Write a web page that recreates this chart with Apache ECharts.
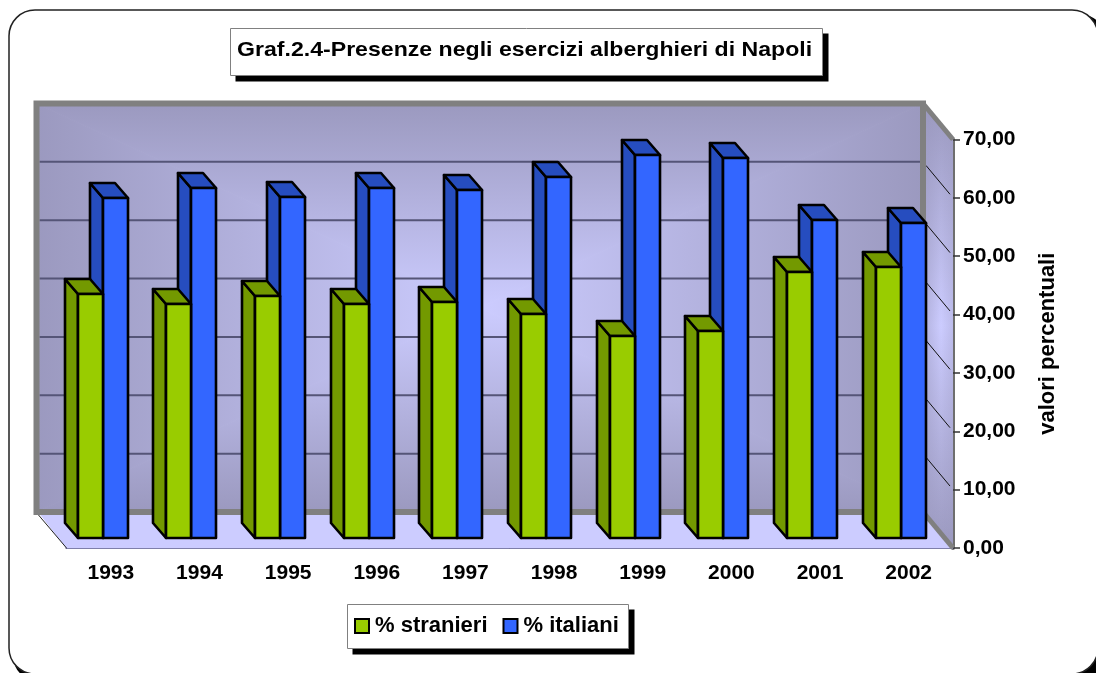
<!DOCTYPE html>
<html><head><meta charset="utf-8">
<style>html,body{margin:0;padding:0;background:#fff}#c{width:1096px;height:673px}</style>
<script src="https://cdn.jsdelivr.net/npm/echarts@6/dist/echarts.min.js"></script>
</head><body><div id="c"></div>
<script>
const years = ['1993','1994','1995','1996','1997','1998','1999','2000','2001','2002'];
const stranieri = [41.8,40.1,41.5,40.1,40.5,38.4,34.7,35.4,45.6,46.4];
const italiani  = [58.2,60.0,58.5,60.0,59.7,61.8,65.6,65.1,54.5,54.0];
const gridValues = [10,20,30,40,50,60];
const chartTitle = 'Graf.2.4-Presenze negli esercizi alberghieri di Napoli';
const FONT = '"Liberation Sans", Arial, sans-serif';

const chart = echarts.init(document.getElementById('c'), null, {renderer:'canvas'});
function vgrad(a,b){return {type:'linear',x:0,y:0,x2:0,y2:1,colorStops:[{offset:0,color:a},{offset:1,color:b}]};}
function hgrad(a,b){return {type:'linear',x:0,y:0,x2:1,y2:0,colorStops:[{offset:0,color:a},{offset:1,color:b}]};}
const EDGE='#9B99BF', MID='#CCCCFF', BACK_X=-30, BACK_Y=-36;

function poly(a,fill){return {type:'polygon',shape:{points:a},style:{fill:fill,stroke:fill,lineWidth:1},silent:true};}
function pathGradientFaces(tl,tr,br,bl,c,edge){
  return [
    poly([tl,tr,c],vgrad(edge,MID)),
    poly([bl,br,c],vgrad(MID,edge)),
    poly([tl,bl,c],hgrad(edge,MID)),
    poly([tr,br,c],hgrad(MID,edge))
  ];
}
function renderWalls(params,api){
  const s=params.coordSys, x0=s.x, x1=s.x+s.width, yTop=s.y, yBot=s.y+s.height;
  const bx0=x0+BACK_X, bx1=x1+BACK_X, by0=yTop+BACK_Y, by1=yBot+BACK_Y;
  const ch=[];
  ch.push(...pathGradientFaces([bx0,by0],[bx1,by0],[bx1,by1],[bx0,by1],[(bx0+bx1)/2,(by0+by1)/2],EDGE));
  const side=[[bx1,by0],[x1,yTop],[x1,yBot],[bx1,by1]];
  ch.push({type:'polygon',shape:{points:side},silent:true,style:{fill:{type:'linear',x:0,y:0,x2:0,y2:1,colorStops:[
    {offset:0,color:EDGE},{offset:0.5,color:MID},{offset:1,color:EDGE}]}}});
  ch.push({type:'polygon',shape:{points:side},silent:true,style:{fill:{type:'linear',x:0,y:0,x2:1,y2:0,colorStops:[
    {offset:0,color:'rgba(155,153,191,0.55)'},{offset:0.6,color:'rgba(155,153,191,0)'},{offset:1,color:'rgba(155,153,191,0.3)'}]}}});
  ch.push(poly([[bx0+2,by1],[bx1,by1],[x1,yBot],[x0,yBot]],'#CCCCFF'));
  ch.push({type:'line',shape:{x1:bx0+2,y1:by1+3,x2:x0,y2:yBot},style:{stroke:'#222',lineWidth:1},silent:true});
  gridValues.forEach(v=>{
    const y=api.coord([0,v])[1];
    ch.push({type:'line',shape:{x1:bx0+3,y1:y+BACK_Y,x2:bx1-3,y2:y+BACK_Y},style:{stroke:'#555577',lineWidth:2},silent:true});
    ch.push({type:'line',shape:{x1:bx1+3,y1:y+BACK_Y+3.6,x2:x1-3,y2:y-3.6},style:{stroke:'#111',lineWidth:1},silent:true});
  });
  const g={stroke:'#808080',lineWidth:6,fill:null,lineJoin:'miter'};
  ch.push({type:'polygon',shape:{points:[[bx0,by0],[bx1,by0],[bx1,by1],[bx0,by1]]},style:g,silent:true});
  ch.push({type:'line',shape:{x1:bx1,y1:by0,x2:x1,y2:yTop},style:{stroke:'#808080',lineWidth:5},silent:true});
  ch.push({type:'line',shape:{x1:bx1,y1:by1,x2:x1,y2:yBot},style:{stroke:'#808080',lineWidth:5},silent:true});
  return {type:'group',children:ch};
}
const DX=-13, DY=-15, BASE=-10, W=25, SHIFT=-8;
function barRenderer(side,front,shade){
  return function(params,api){
    const c=api.coord([api.value(0),api.value(1)]), o=api.coord([api.value(0),0]);
    const xa=Math.round(c[0]+SHIFT+(side<0?-W:0)), xb=xa+W;
    const yt=Math.round(c[1]+BASE), yb=Math.round(o[1]+BASE);
    const st={stroke:'#000',lineWidth:2.6,lineJoin:'round'};
    const face=(a,f)=>({type:'polygon',shape:{points:a},style:Object.assign({fill:f},st)});
    return {type:'group',children:[
      face([[xa,yb],[xa+DX,yb+DY],[xa+DX,yt+DY],[xa,yt]],shade),
      face([[xa,yt],[xa+DX,yt+DY],[xb+DX,yt+DY],[xb,yt]],shade),
      face([[xa,yt],[xb,yt],[xb,yb],[xa,yb]],front)
    ]};
  };
}
function box(x,y,w,h,z){
  return [
    {type:'rect',z:z,shape:{x:x+5,y:y+5,width:w+1,height:h+1},style:{fill:'#000'},silent:true},
    {type:'rect',z:z,shape:{x:x,y:y,width:w,height:h},style:{fill:'#fff',stroke:'#808080',lineWidth:1},silent:true}
  ];
}
chart.setOption({
  animation:false,
  backgroundColor:'#fff',
  textStyle:{fontFamily:FONT},
  graphic:[
    {type:'rect',z:0,shape:{x:14,y:15,width:1089,height:664,r:20},style:{fill:'#000'},silent:true},
    {type:'rect',z:0,shape:{x:9,y:10,width:1089,height:664,r:26},style:{fill:'#fff',stroke:'#222',lineWidth:1.5},silent:true},
    ...box(230.5,28.5,592,47,0),
    ...box(347.5,604.5,281,44,0),
    {type:'text',z:10,x:237,y:50,scaleX:1.1,
      style:{text:chartTitle,fill:'#000',font:'bold 21px '+FONT,textAlign:'left',textVerticalAlign:'middle',verticalAlign:'middle'},silent:true}
  ],
  legend:{
    left:347,top:604,padding:[11,11,11,7],itemGap:15,itemWidth:14,itemHeight:14,
    icon:'rect',
    itemStyle:{borderColor:'#000',borderWidth:2},
    textStyle:{fontFamily:FONT,fontWeight:'bold',fontSize:22,color:'#000',padding:[0,0,0,1]},
    data:['% stranieri','% italiani']
  },
  grid:{left:66.5,top:139.5,width:886.5,height:408.5,containLabel:false},
  xAxis:{type:'category',data:years,
    axisLine:{lineStyle:{color:'#333355',width:2}},
    axisTick:{length:7,lineStyle:{color:'#555',width:1}},
    axisLabel:{fontFamily:FONT,fontWeight:'bold',fontSize:21,color:'#000',margin:15}
  },
  yAxis:{type:'value',position:'right',min:0,max:70,interval:10,
    name:'valori percentuali',nameLocation:'middle',nameRotate:90,nameGap:84,
    nameTextStyle:{fontFamily:FONT,fontWeight:'bold',fontSize:22,color:'#000'},
    axisLine:{show:true,lineStyle:{color:'#6e6e6e',width:4}},
    axisTick:{show:true,length:7,lineStyle:{color:'#333',width:1.5}},
    axisLabel:{fontFamily:FONT,fontWeight:'bold',fontSize:21,color:'#000',margin:10,padding:[3,0,0,0],
      formatter:v=>v.toFixed(2).replace('.',',')},
    splitLine:{show:false}
  },
  series:[
    {type:'custom',name:'walls',z:1,silent:true,renderItem:renderWalls,data:[[0,0]],encode:{x:0,y:1},legendHoverLink:false},
    {type:'custom',name:'% stranieri',z:4,itemStyle:{color:'#99CC00'},renderItem:barRenderer(-1,'#99CC00','#739900'),
      data:years.map((y,i)=>[i,stranieri[i]]),encode:{x:0,y:1}},
    {type:'custom',name:'% italiani',z:3,itemStyle:{color:'#3366FF'},renderItem:barRenderer(1,'#3366FF','#264DBF'),
      data:years.map((y,i)=>[i,italiani[i]]),encode:{x:0,y:1}}
  ]
});
</script></body></html>
